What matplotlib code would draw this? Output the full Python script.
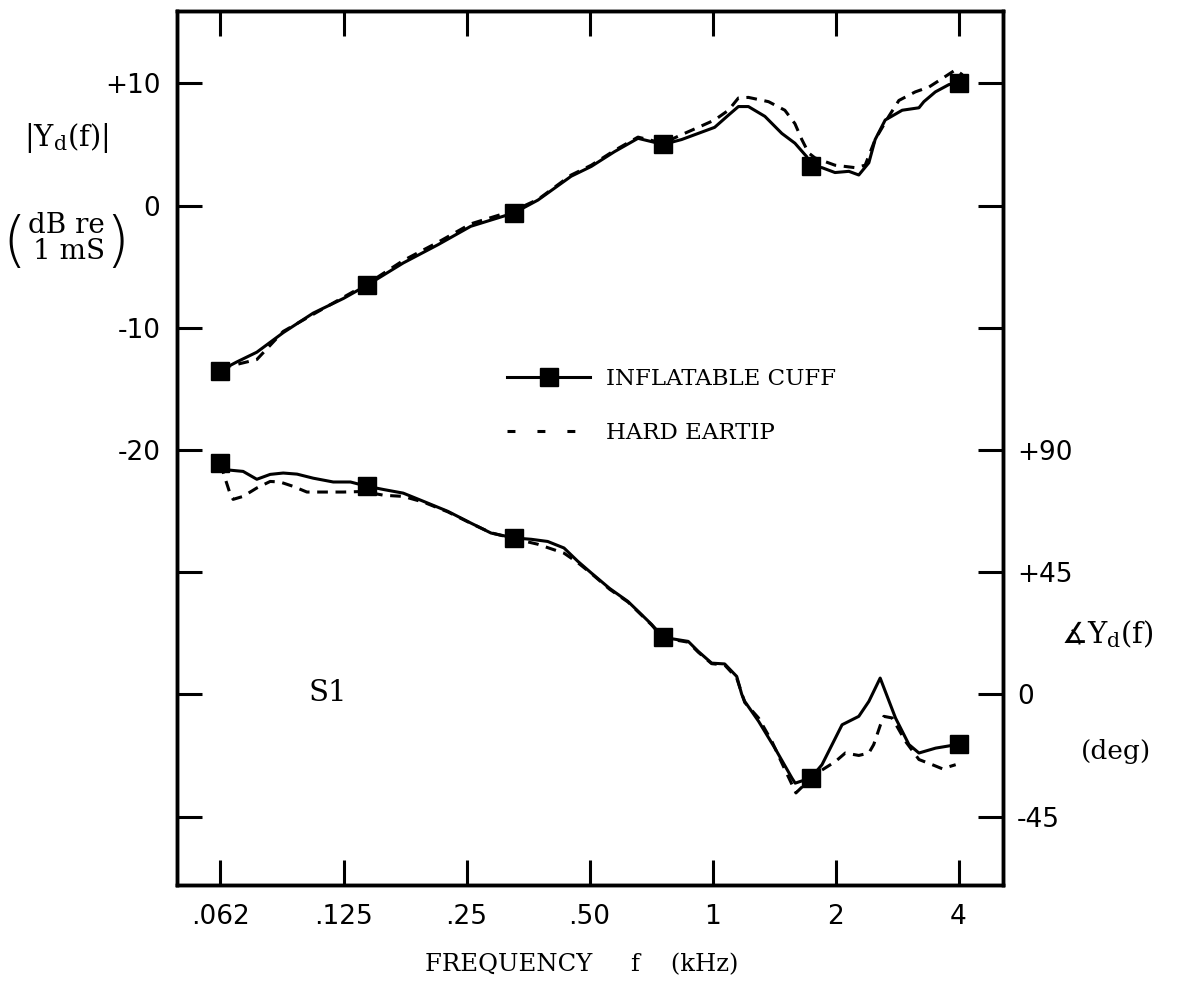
import matplotlib
matplotlib.use("Agg")
import matplotlib.pyplot as plt
from matplotlib.lines import Line2D
from matplotlib import font_manager

# |Yd(f)| in dB re 1 mS
mag_freq_cuff = [0.0625, 0.0685, 0.0767, 0.089, 0.1054, 0.125, 0.143, 0.175, 0.213, 0.256,
                 0.327, 0.374, 0.451, 0.505, 0.575, 0.657, 0.757, 0.840, 1.012, 1.094,
                 1.157, 1.224, 1.343, 1.478, 1.591, 1.70, 1.74, 1.853, 1.994, 2.156,
                 2.28, 2.413, 2.50, 2.646, 2.912, 3.20, 3.29, 3.51, 3.79, 4.0]
mag_db_cuff = [-13.5, -12.8, -12.0, -10.4, -8.8, -7.6, -6.5, -4.7, -3.2, -1.7,
               -0.6, 0.45, 2.4, 3.2, 4.4, 5.5, 5.0, 5.4, 6.4, 7.4,
               8.1, 8.1, 7.3, 5.9, 5.1, 4.0, 3.2, 3.1, 2.7, 2.8,
               2.5, 3.5, 5.4, 7.0, 7.8, 8.0, 8.5, 9.3, 9.9, 10.0]
mag_freq_hard = [0.0625, 0.0685, 0.0767, 0.089, 0.1054, 0.125, 0.143, 0.175, 0.213, 0.256,
                 0.327, 0.374, 0.451, 0.505, 0.575, 0.657, 0.757, 0.840, 0.923, 1.012,
                 1.094, 1.157, 1.224, 1.371, 1.503, 1.591, 1.654, 1.719, 1.781, 1.994,
                 2.233, 2.363, 2.50, 2.70, 2.858, 3.134, 3.387, 3.65, 3.93, 4.09]
mag_db_hard = [-13.3, -13.0, -12.6, -10.3, -8.9, -7.5, -6.4, -4.5, -3.0, -1.5,
               -0.4, 0.5, 2.5, 3.3, 4.5, 5.6, 5.1, 5.8, 6.4, 7.0,
               7.8, 8.8, 8.85, 8.5, 7.8, 6.7, 5.4, 4.3, 3.9, 3.3,
               3.1, 3.3, 5.4, 7.3, 8.6, 9.3, 9.7, 10.4, 11.1, 10.7]

# phase of Yd(f) in degrees
ph_freq_cuff = [0.0625, 0.0634, 0.0710, 0.0767, 0.0827, 0.089, 0.0962, 0.1054, 0.118, 0.130,
                0.143, 0.157, 0.175, 0.196, 0.225, 0.256, 0.287, 0.327, 0.360, 0.395,
                0.433, 0.468, 0.505, 0.560, 0.621, 0.670, 0.709, 0.757, 0.872, 0.923,
                0.995, 1.071, 1.146, 1.179, 1.199, 1.296, 1.421, 1.564, 1.593, 1.74,
                1.853, 2.075, 2.28, 2.413, 2.572, 2.804, 3.025, 3.20, 3.516, 4.0]
ph_deg_cuff = [85.2, 82.8, 82.1, 79.2, 81.0, 81.5, 81.1, 79.6, 78.2, 78.2,
               76.6, 75.4, 74.1, 71.1, 67.4, 63.1, 59.4, 57.6, 57.1, 56.3,
               53.9, 49.0, 44.7, 39.0, 34.2, 29.4, 25.8, 21.0, 19.5, 15.8,
               11.5, 11.2, 6.6, 0.0, -2.6, -9.9, -19.8, -30.8, -32.7, -30.8,
               -25.9, -11.2, -8.1, -2.6, 6.0, -8.7, -18.5, -21.6, -19.8, -18.4]
ph_freq_hard = [0.0625, 0.0640, 0.0659, 0.0671, 0.0710, 0.0767, 0.0827, 0.0874, 0.0941, 0.1017,
                0.1116, 0.125, 0.140, 0.157, 0.175, 0.196, 0.225, 0.256, 0.287, 0.327,
                0.373, 0.433, 0.468, 0.505, 0.560, 0.621, 0.670, 0.709, 0.757, 0.872,
                0.923, 0.995, 1.071, 1.146, 1.199, 1.296, 1.397, 1.478, 1.60, 1.781,
                2.0, 2.113, 2.28, 2.413, 2.48, 2.576, 2.626, 2.753, 2.966, 3.20,
                3.45, 3.65, 3.936]
ph_deg_hard = [85.0, 80.0, 74.1, 71.8, 72.9, 76.0, 78.4, 78.2, 76.6, 74.5,
               74.5, 74.5, 74.7, 73.3, 72.9, 70.8, 67.2, 63.0, 59.5, 57.3,
               55.3, 52.0, 48.5, 44.5, 38.7, 34.0, 29.2, 25.6, 20.8, 19.2,
               15.5, 11.3, 10.8, 6.0, -3.0, -8.7, -17.3, -25.3, -36.3, -29.5,
               -24.7, -21.6, -22.5, -21.6, -18.5, -11.2, -8.1, -8.7, -17.3, -24.0,
               -25.9, -27.4, -25.9]

marker_freqs = [0.0625, 0.143, 0.327, 0.757, 1.74, 4.0]

freq_ticks = [0.0625, 0.125, 0.25, 0.5, 1, 2, 4]
freq_labels = ['.062', '.125', '.25', '.50', '1', '2', '4']
db_ticks = [10, 0, -10, -20, -30, -40, -50]
db_labels = ['+10', '0', '-10', '-20', '', '', '']
deg_ticks = [225, 180, 135, 90, 45, 0, -45]
deg_labels = ['', '', '', '+90', '+45', '0', '-45']

# fonts: slab serif stands in for the typewriter text, plain sans for tick numbers
installed = {f.name for f in font_manager.fontManager.ttflist}
tick_family = 'Liberation Sans Narrow' if 'Liberation Sans Narrow' in installed else 'DejaVu Sans'
serif = ['DejaVu Serif']
plt.rcParams['mathtext.fontset'] = 'dejavuserif'

fig = plt.figure(figsize=(11.82, 10.01), dpi=100)
ax = fig.add_axes([0.1497, 0.1159, 0.6989, 0.8736])

ylo, yhi = -55.6, 15.96
ax.set_xscale('log', base=2)
ax.set_xlim(0.0489, 5.14)
ax.set_ylim(ylo, yhi)

lw = 2.2
ax.plot(mag_freq_hard, mag_db_hard, color='k', lw=lw, dashes=(3.5, 2.5))
mk = [mag_freq_cuff.index(f) for f in marker_freqs]
ax.plot(mag_freq_cuff, mag_db_cuff, color='k', lw=lw, marker='s', ms=12.5, markevery=mk)

ax2 = ax.twinx()
# phase axis: -20 dB <-> +90 deg, 10 dB <-> 45 deg
ax2.set_ylim(90 + 4.5 * (ylo + 20), 90 + 4.5 * (yhi + 20))
ax2.plot(ph_freq_hard, ph_deg_hard, color='k', lw=lw, dashes=(3.5, 2.5))
pk = [ph_freq_cuff.index(f) for f in marker_freqs]
ax2.plot(ph_freq_cuff, ph_deg_cuff, color='k', lw=lw, marker='s', ms=12.5, markevery=pk)

ax.set_xticks(freq_ticks)
ax.set_xticklabels(freq_labels)
ax.minorticks_off()
ax.set_yticks(db_ticks)
ax.set_yticklabels(db_labels)
ax2.set_yticks(deg_ticks)
ax2.set_yticklabels(deg_labels)
ax2.minorticks_off()

for a in (ax, ax2):
    for s in a.spines.values():
        s.set_linewidth(2.5)
ax.tick_params(axis='both', which='major', direction='in', length=18, width=2.2,
               top=True, right=False, labelsize=19, pad=12)
ax.tick_params(axis='x', pad=14)
ax2.tick_params(axis='y', direction='in', length=18, width=2.2, labelsize=19, pad=10)
for lab in ax.get_xticklabels() + ax.get_yticklabels() + ax2.get_yticklabels():
    lab.set_family(tick_family)

handles = [Line2D([], [], color='k', lw=lw, marker='s', ms=12.5),
           Line2D([], [], color='k', lw=lw, dashes=(2.6, 7.2))]
ax.legend(handles, ['INFLATABLE CUFF', 'HARD EARTIP'], loc='upper left',
          bbox_to_anchor=(0.40, 0.591), frameon=False, borderpad=0, borderaxespad=0,
          handlelength=3.6, handletextpad=0.7, labelspacing=1.4,
          prop={'family': serif, 'size': 16.5})

ax.text(0.183, 0.219, 'S1', transform=ax.transAxes, ha='center', va='center',
        family=serif, fontsize=21)

fig.text(0.0558, 0.862, r'|$\mathrm{Y_d}$(f)|', ha='center', va='center', family=serif, fontsize=21)
fig.text(0.0120, 0.757, '(', ha='center', va='center', family='DejaVu Sans', fontsize=44, fontweight='light')
fig.text(0.0995, 0.757, ')', ha='center', va='center', family='DejaVu Sans', fontsize=44, fontweight='light')
fig.text(0.0560, 0.775, 'dB re', ha='center', va='center', family=serif, fontsize=20)
fig.text(0.0580, 0.749, '1 mS', ha='center', va='center', family=serif, fontsize=20)

fig.text(0.898, 0.366, '\u2221', ha='left', va='center', family='DejaVu Sans', fontsize=21)
fig.text(0.920, 0.366, r'$\mathrm{Y_d}$(f)', ha='left', va='center', family=serif, fontsize=21)
fig.text(0.944, 0.249, '(deg)', ha='center', va='center', family=serif, fontsize=19)

fig.text(0.4924, 0.036, 'FREQUENCY     f    (kHz)', ha='center', va='center', family=serif, fontsize=17.5)

fig.savefig('out.png', dpi=100)
